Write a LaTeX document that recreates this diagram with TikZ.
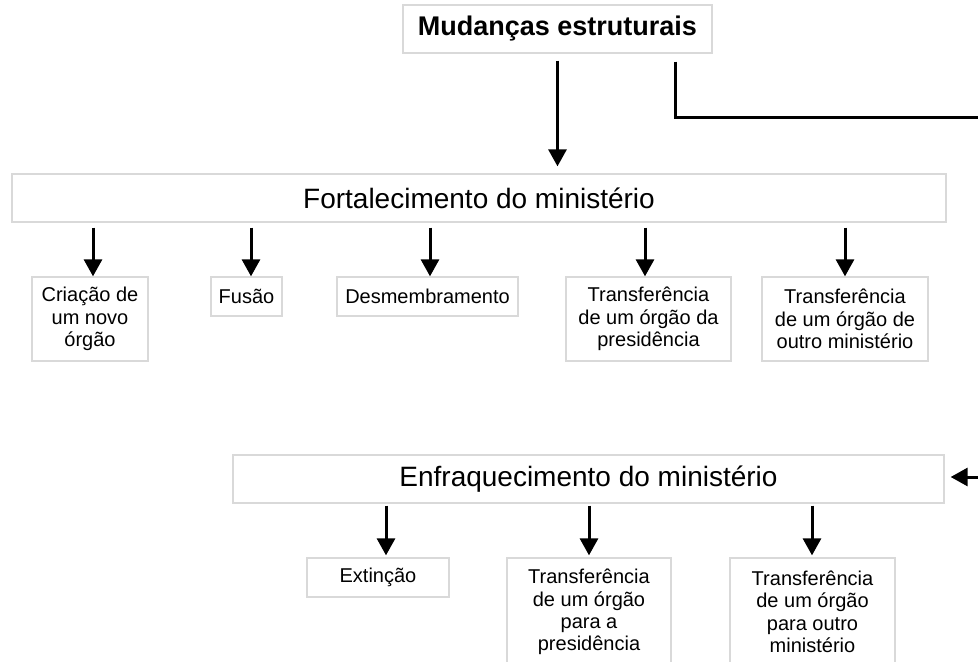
\documentclass[tikz,border=0pt]{standalone}
\usepackage{fontspec}
\setmainfont{Liberation Sans}
\usetikzlibrary{arrows.meta,calc}
\definecolor{boxgray}{RGB}{217,217,217}
\begin{document}
\begin{tikzpicture}[x=1bp,y=-1bp,
  box/.style={draw=boxgray, line width=1.3bp, fill=white, inner sep=0pt, align=center},
  headbox/.style={box, minimum height=48bp, font=\fontsize{28bp}{32bp}\selectfont},
  smallbox/.style={box, font=\fontsize{20bp}{22.4bp}\selectfont},
  arr/.style={line width=3bp, -{Triangle[width=18bp,length=17bp]}},
]
\useasboundingbox (0,0) rectangle (978,662);
\clip (0,0) rectangle (978,662);

% top
\node[box, minimum width=309bp, minimum height=48bp,
      font=\bfseries\fontsize{27bp}{30bp}\selectfont] (mud) at (557.5,29) {Mudanças estruturais};

% strengthening
\node[headbox, minimum width=934bp] (fort) at (479,198) {Fortalecimento do ministério};
\node[smallbox, minimum width=116bp, minimum height=84bp] (c1) at (90,319) {Criação de\\um novo\\órgão};
\node[smallbox, minimum width=71bp, minimum height=39bp] (c2) at (246.5,296.5) {Fusão};
\node[smallbox, minimum width=181bp, minimum height=39bp] (c3) at (427.5,296.5) {Desmembramento};
\node[smallbox, minimum width=165bp, minimum height=84bp] (c4) at (648.5,319) {Transferência\\de um órgão da\\presidência};
\node[smallbox, minimum width=166bp, minimum height=84bp] (c5) at (845,319) {Transferência\\de um órgão de\\outro ministério};

% weakening
\node[headbox, minimum width=711bp] (enf) at (588.5,479) {Enfraquecimento do ministério};
\node[smallbox, minimum width=142bp, minimum height=39bp] (d1) at (378,577.5) {Extinção};
\node[smallbox, minimum width=164bp, minimum height=108bp] (d2) at (589,612) {Transferência\\de um órgão\\para a\\presidência};
\node[smallbox, minimum width=165bp, minimum height=108bp] (d3) at (812.5,612) {Transferência\\de um órgão\\para outro\\ministério};

% connectors
\draw[arr, shorten <=7bp, shorten >=7bp] (mud.south) -- (mud.south |- fort.north);

\foreach \n/\dx in {c1/3,c2/4.5,c3/2.5,c4/-3.5,c5/0}{
  \draw[arr, shorten <=5bp] ($(\n.north |- fort.south)+(\dx,0)$) -- ($(\n.north)+(\dx,0)$);
}
\foreach \n/\dx in {d1/8,d2/0,d3/-0.5}{
  \draw[arr, shorten <=2bp, shorten >=2bp] ($(\n.north |- enf.south)+(\dx,0)$) -- ($(\n.north)+(\dx,0)$);
}

\coordinate (k1) at (675,118);
\coordinate (k2) at (1010,118);
\coordinate (k3) at (1010,477);
\draw[arr, shorten <=8bp, shorten >=6bp] (mud.south -| k1) -- (k1) -- (k2) -- (k3) -- (enf.east |- k3);
\end{tikzpicture}
\end{document}
